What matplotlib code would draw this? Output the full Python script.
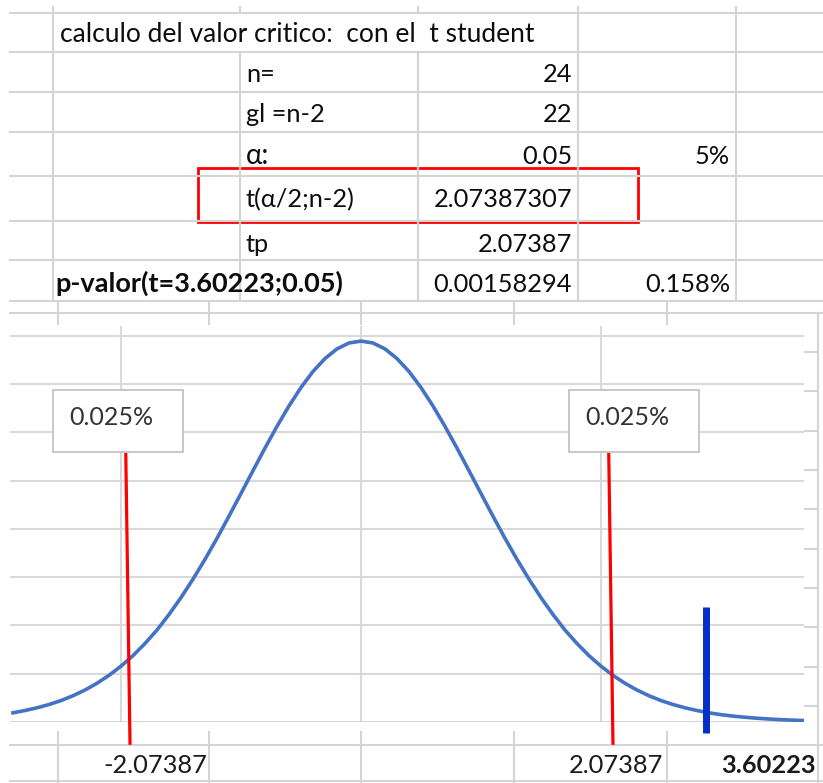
import matplotlib.pyplot as plt
from matplotlib.patches import Rectangle

plt.rcParams['font.family'] = ['Lato', 'DejaVu Sans']

# spreadsheet cells
title = "calculo del valor critico:  con el  t student"
row_labels = ["n=", "gl =n-2", "α:", "t(α/2;n-2)", "tp"]
row_values = ["24", "22", "0.05", "2.07387307", "2.07387"]
row_pcts = ["", "", "5%", "", ""]
pvalue_label = "p-valor(t=3.60223;0.05)"
pvalue_value = "0.00158294"
pvalue_pct = "0.158%"

# t density (gl = 22)
t_vals = [-2.9, -2.8, -2.7, -2.6, -2.5, -2.4, -2.3, -2.2, -2.1, -2.0,
          -1.9, -1.8, -1.7, -1.6, -1.5, -1.4, -1.3, -1.2, -1.1, -1.0,
          -0.9, -0.8, -0.7, -0.6, -0.5, -0.4, -0.3, -0.2, -0.1, 0.0,
          0.1, 0.2, 0.3, 0.4, 0.5, 0.6, 0.7, 0.8, 0.9, 1.0,
          1.1, 1.2, 1.3, 1.4, 1.5, 1.6, 1.7, 1.8, 1.9, 2.0,
          2.1, 2.2, 2.3, 2.4, 2.5, 2.6, 2.7, 2.8, 2.9, 3.0,
          3.1, 3.2, 3.3, 3.4, 3.5, 3.6, 3.7]
dens = [0.0095, 0.0119, 0.0147, 0.0181, 0.0222, 0.0272, 0.0331, 0.0401, 0.0483, 0.0578,
        0.0687, 0.0813, 0.0952, 0.1113, 0.1288, 0.1479, 0.1684, 0.1902, 0.2131, 0.2366,
        0.2602, 0.2836, 0.3061, 0.3272, 0.3463, 0.3629, 0.3763, 0.3863, 0.3924, 0.3944,
        0.3924, 0.3863, 0.3763, 0.3629, 0.3463, 0.3272, 0.3061, 0.2836, 0.2602, 0.2366,
        0.2131, 0.1902, 0.1684, 0.1479, 0.1288, 0.1113, 0.0952, 0.0813, 0.0687, 0.0578,
        0.0483, 0.0401, 0.0331, 0.0272, 0.0222, 0.0181, 0.0147, 0.0119, 0.0095, 0.0076,
        0.0061, 0.0049, 0.0039, 0.0031, 0.0024, 0.0019, 0.0015]

crit_labels = ["-2.07387", "2.07387"]
tp_label = "3.60223"
tail_text = "0.025%"
# where the hand drawn markers sit on the chart (x top, x bottom)
red_marks = [(-1.96, -1.925), (2.065, 2.10)]
blue_mark = 2.875

W, H = 823, 783
fig = plt.figure(figsize=(W / 100, H / 100), dpi=100)

# --- sheet layer, pixel coordinates ---
sheet = fig.add_axes([0, 0, 1, 1])
sheet.set_xlim(0, W)
sheet.set_ylim(H, 0)
sheet.axis('off')
gc = '#d4d4d4'
for y in [13, 52, 92, 132, 176, 221, 260, 301, 313, 745, 781]:
    sheet.plot([10, W], [y, y], color=gc, lw=1.5)
for x in [53, 578, 736]:
    sheet.plot([x, x], [7, 301], color=gc, lw=1.5)
for x in [240, 418]:
    sheet.plot([x, x], [7, 13], color=gc, lw=1.5)
    sheet.plot([x, x], [52, 301], color=gc, lw=1.5)
for x in [58, 209, 361, 514, 667]:
    sheet.plot([x, x], [303, 324], color=gc, lw=1.5)
    sheet.plot([x, x], [732, H], color=gc, lw=1.5)
sheet.plot([818, 818], [313, H], color=gc, lw=1.5)
for y in [352, 391, 431, 470, 509, 549, 588, 627, 667, 706]:
    sheet.plot([805, 818], [y, y], color=gc, lw=1.5)

fs = 18.3
tc = '#0d0d0d'
sheet.text(60, 42, title, fontsize=19, va='baseline', color=tc)
baselines = [82, 122, 164, 207, 252]
for lab, val, pct, yb in zip(row_labels, row_values, row_pcts, baselines):
    size = 20 if lab.startswith("α") else fs
    sheet.text(246, yb, lab, fontsize=size, va='baseline', color=tc)
    sheet.text(572, yb, val, fontsize=fs, va='baseline', ha='right', color=tc)
    if pct:
        sheet.text(730, yb, pct, fontsize=fs, va='baseline', ha='right', color=tc)
sheet.text(55, 292, pvalue_label, fontsize=19.5, va='baseline', weight='bold', color=tc)
sheet.text(572, 292, pvalue_value, fontsize=fs, va='baseline', ha='right', color=tc)
sheet.text(730, 292, pvalue_pct, fontsize=fs, va='baseline', ha='right', color=tc)
sheet.add_patch(Rectangle((198, 168), 440, 54, fill=False, ec='#ff0000', lw=2))

# --- chart ---
ax = fig.add_axes([10 / W, (H - 722) / H, 794 / W, 396 / H])
ax.set_xlim(-2.925, 3.692)
ax.set_ylim(0, 0.41)
ax.set_xticks([-2, 0, 2])
ax.set_yticks([0.05, 0.10, 0.15, 0.20, 0.25, 0.30, 0.35, 0.40])
ax.grid(True, color='#d9d9d9', lw=1.5)
ax.tick_params(length=0, labelbottom=False, labelleft=False)
for s in ax.spines.values():
    s.set_visible(False)
ax.axhline(0, color='#c8c8c8', lw=1.8)
ax.plot(t_vals, dens, color='#4472C4', lw=2.6, solid_joinstyle='round')
for x0, x1 in red_marks:
    ax.plot([x0, x1], [0.277, -0.022], color='#ff0000', lw=2.3, clip_on=False)
ax.plot([blue_mark, blue_mark], [0.1195, -0.0114], color='#0030c8', lw=5,
        solid_capstyle='butt', clip_on=False)

# --- text boxes over the chart ---
over = fig.add_axes([0, 0, 1, 1])
over.set_xlim(0, W)
over.set_ylim(H, 0)
over.axis('off')
over.patch.set_alpha(0)
for bx in [53, 569]:
    over.add_patch(Rectangle((bx, 390), 130, 62, fc='white', ec='#bfbfbf', lw=1.2))
    over.text(bx + 16, 425, tail_text, fontsize=18, va='baseline', color='#333333')
over.text(155, 773, crit_labels[0], fontsize=fs, va='baseline', ha='center', color='#1a1a1a')
over.text(616, 773, crit_labels[1], fontsize=fs, va='baseline', ha='center', color='#1a1a1a')
over.text(768, 773, tp_label, fontsize=fs, va='baseline', ha='center', weight='bold', color='#1a1a1a')

fig.savefig('out.png', dpi=100)
